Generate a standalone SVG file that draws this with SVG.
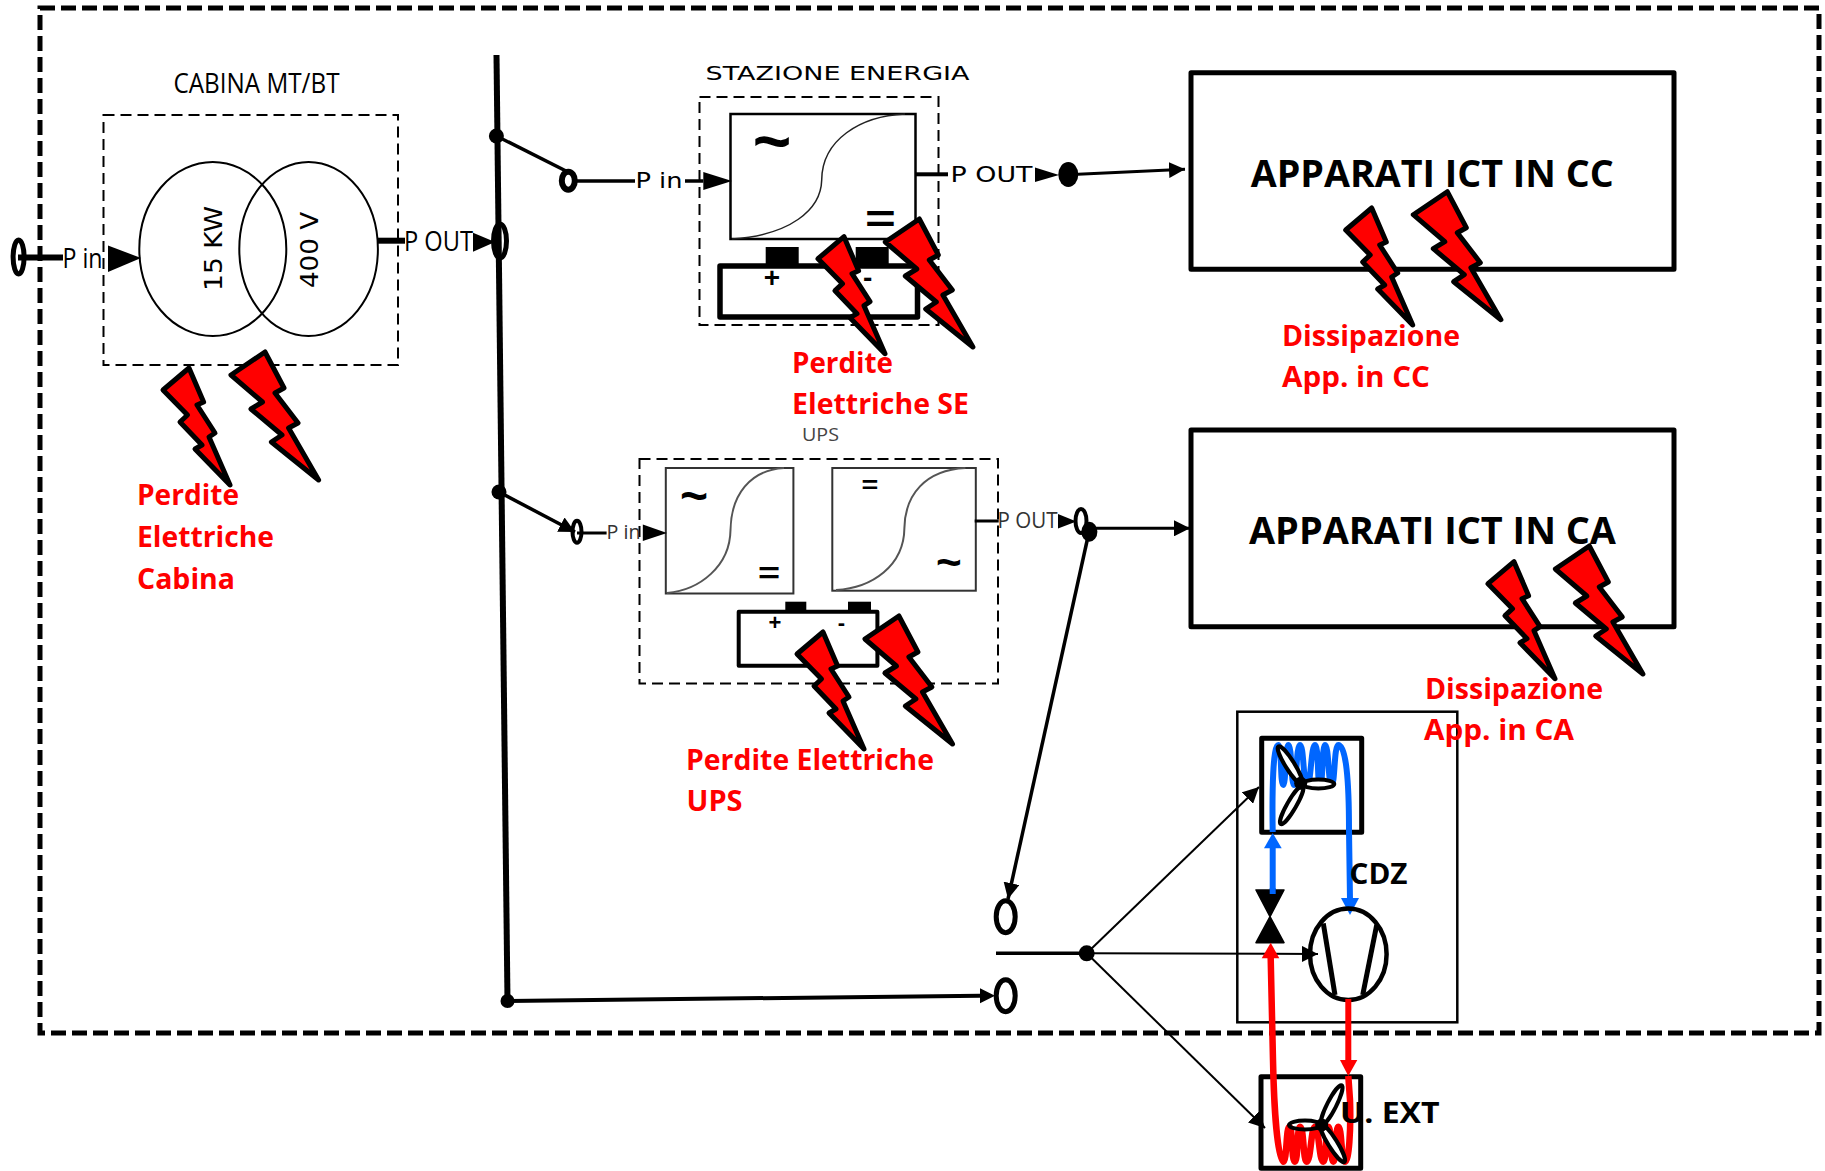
<svg xmlns="http://www.w3.org/2000/svg" xmlns:xlink="http://www.w3.org/1999/xlink" width="1825" height="1171" viewBox="0 0 1825 1171">
<style>
.dash{fill:none;stroke:#000;stroke-width:2;stroke-dasharray:11 6}
.box{fill:none;stroke:#000;stroke-width:2.5}
.thick{fill:none;stroke:#000;stroke-width:5;stroke-linejoin:round}
.ln{fill:none;stroke:#000;stroke-width:3.5}
.thin{fill:none;stroke:#000;stroke-width:2}
.curve{fill:none;stroke:#222;stroke-width:1.5}
.k{fill:#000;stroke:none}
.ring{fill:#fff;stroke:#000;stroke-width:5}
.blade{fill:#fff;stroke:#000;stroke-width:4}
.bolt{fill:#f00;stroke:#000;stroke-width:5;stroke-linejoin:round}
.red{font-family:"Open Sans","Liberation Sans",sans-serif;font-weight:700;font-size:28.5px;fill:#f00}
.blk{font-family:"Open Sans","Liberation Sans",sans-serif;font-weight:700;font-size:37px;fill:#000}
.sm{font-family:"Open Sans","Liberation Sans",sans-serif;font-weight:400;font-size:27px;fill:#000}
.dv{font-family:"DejaVu Sans",sans-serif;font-size:21px;fill:#000}
.sym{font-family:"Liberation Sans",sans-serif;text-anchor:middle;fill:#000}
.bl{fill:none;stroke:#06f;stroke-width:6}
.rd{fill:none;stroke:#f00;stroke-width:6.5}
</style>
<defs>
<polygon id="bs" class="bolt" points="0,0 14.6,34 8,37 26,65 20,69 41,117 6,81 13,77 -9,54 -1.5,47 -26,22"/>
<polygon id="bl" class="bolt" points="0,0 19,36 10,41 33,71 23.6,76 53.6,128 6.4,90 17,83 -14,57 -2.5,50 -34,23"/>
<marker id="ah" markerUnits="userSpaceOnUse" markerWidth="18" markerHeight="16" refX="16" refY="8" orient="auto"><path d="M0 0L16 8L0 16Z" fill="#000"/></marker>
</defs>
<rect width="1825" height="1171" fill="#fff"/>
<rect id="perimeter" x="40" y="8" width="1779" height="1025" fill="none" stroke="#000" stroke-width="5" stroke-dasharray="15 6"/>

<g id="cabina">
<text class="sm" x="173.5" y="92.5" textLength="166" lengthAdjust="spacingAndGlyphs">CABINA MT/BT</text>
<rect class="dash" x="103.5" y="115" width="294.5" height="250"/>
<ellipse cx="212.8" cy="249" rx="73.5" ry="87" fill="none" stroke="#000" stroke-width="2"/>
<ellipse cx="308.6" cy="249" rx="69.3" ry="87" fill="none" stroke="#000" stroke-width="2"/>
<text class="dv" style="font-size:25px" transform="translate(222 291) rotate(-90)" textLength="85" lengthAdjust="spacingAndGlyphs">15 KW</text>
<text class="dv" style="font-size:25px" transform="translate(318 288) rotate(-90)" textLength="76" lengthAdjust="spacingAndGlyphs">400 V</text>
<text class="sm" x="62.5" y="268" textLength="40" lengthAdjust="spacingAndGlyphs">P in</text>
<text class="sm" x="404" y="251" textLength="69" lengthAdjust="spacingAndGlyphs">P OUT</text>
</g>

<g id="stazione-energia">
<text class="dv" x="705.5" y="80" style="font-size:19.5px" textLength="264" lengthAdjust="spacingAndGlyphs">STAZIONE ENERGIA</text>
<rect class="dash" x="699.5" y="97" width="239" height="228"/>
<rect x="730.5" y="114" width="185" height="125" fill="none" stroke="#000" stroke-width="2.5"/>
<path class="curve" d="M732 239C790 235 821 210 821.7 180C822 140 860 116 905 114"/>
<text class="sym" style="font-size:66px;font-weight:700" x="772" y="164">~</text>
<text class="sym" transform="translate(880.5 232) scale(1.1 .8)" style="font-size:48px;font-weight:700">=</text>
<rect class="k" x="765.7" y="247" width="33" height="17"/>
<rect class="k" x="855.7" y="247" width="33" height="17"/>
<rect class="thick" x="720" y="266" width="197.5" height="51" style="stroke-width:5.5"/>
<text class="sym" style="font-size:28px;font-weight:700" x="772" y="287">+</text>
<text class="sym" style="font-size:28px;font-weight:700" x="867.7" y="287">-</text>
<text class="dv" x="635.5" y="187.7" textLength="47" lengthAdjust="spacingAndGlyphs">P in</text>
<text class="dv" x="950.5" y="181.7" textLength="82" lengthAdjust="spacingAndGlyphs">P OUT</text>
</g>

<g id="ups">
<text x="802" y="440.7" textLength="37" lengthAdjust="spacingAndGlyphs" style="font-family:'Open Sans',sans-serif;font-size:18px;fill:#444">UPS</text>
<rect class="dash" x="639.5" y="459" width="358.5" height="224.5"/>
<rect x="665.8" y="468" width="127.6" height="125.5" fill="none" stroke="#333" stroke-width="2"/>
<rect x="832.3" y="468" width="143.5" height="122.7" fill="none" stroke="#333" stroke-width="2"/>
<path class="curve" style="stroke:#555;stroke-width:2" d="M667 593C700 590 730 566 730.5 530C731 495 750 470 784 468"/>
<path class="curve" style="stroke:#555;stroke-width:2" d="M836 590C872 588 904 566 904.4 528C905 495 925 470 965.4 468"/>
<text class="sym" style="font-size:48px;font-weight:700" x="694" y="512">~</text>
<text class="sym" transform="translate(769 583) scale(1.05 .8)" style="font-size:36px;font-weight:700">=</text>
<text class="sym" style="font-size:44px;font-weight:700" x="948.8" y="577">~</text>
<text class="sym" transform="translate(870 493) scale(.8 .65)" style="font-size:36px;font-weight:700">=</text>
<rect class="k" x="785.3" y="601.7" width="21" height="11"/>
<rect class="k" x="848" y="601.7" width="23" height="11"/>
<rect class="thick" x="738.7" y="611.7" width="138.7" height="54" style="stroke-width:4"/>
<text class="sym" style="font-size:22px;font-weight:700" x="775" y="630">+</text>
<text class="sym" style="font-size:22px;font-weight:700" x="841.5" y="630">-</text>
<text class="sm" x="606.5" y="539" style="font-size:20px;fill:#333" textLength="34" lengthAdjust="spacingAndGlyphs">P in</text>
<text class="sm" x="997.5" y="527.5" style="font-size:21px;fill:#333" textLength="60" lengthAdjust="spacingAndGlyphs">P OUT</text>
</g>

<g id="apparati-cc">
<rect class="thick" x="1191" y="72.7" width="483" height="196.6"/>
<text class="blk" x="1250.7" y="186.5" textLength="363" lengthAdjust="spacingAndGlyphs">APPARATI ICT IN CC</text>
</g>
<g id="apparati-ca">
<rect class="thick" x="1191" y="430" width="483" height="196.7"/>
<text class="blk" x="1249" y="543.5" textLength="367" lengthAdjust="spacingAndGlyphs">APPARATI ICT IN CA</text>
</g>

<g id="connectors">
<line class="ln" x1="496.5" y1="55" x2="507.5" y2="1001" style="stroke-width:6"/>
<circle class="k" cx="496.4" cy="136" r="7.5"/>
<circle class="k" cx="499" cy="492" r="7.5"/>
<circle class="k" cx="507.5" cy="1001" r="7"/>
<line class="ln" x1="18" y1="257.5" x2="63" y2="257.5" style="stroke-width:6"/>
<polygon class="k" points="108,245.5 108,272 141,258"/>
<line class="ln" x1="377" y1="240.7" x2="405" y2="240.7" style="stroke-width:6"/>
<polygon class="k" points="473,232.7 473,251.7 495,242"/>
<ellipse class="ring" style="fill:none" cx="18.6" cy="257" rx="5.5" ry="17"/>
<ellipse class="ring" style="fill:none" cx="500" cy="241" rx="6.5" ry="17"/>
<line class="ln" x1="496.4" y1="136" x2="568" y2="172"/>
<line class="ln" x1="568" y1="181" x2="635" y2="181"/>
<line class="ln" x1="685" y1="181" x2="703.3" y2="181"/>
<polygon class="k" points="703.3,172 703.3,190 732,181"/>
<ellipse class="ring" style="fill:#fff;stroke-width:6" cx="568.3" cy="180.7" rx="6.5" ry="9"/>
<line class="ln" x1="916" y1="174.3" x2="948" y2="174.3" style="stroke-width:4"/>
<polygon class="k" points="1035,167.5 1035,182 1059,175"/>
<ellipse class="k" cx="1068.3" cy="174.5" rx="10" ry="12.5"/>
<line class="ln" x1="1078" y1="174.3" x2="1185" y2="169.3" marker-end="url(#ah)" style="stroke-width:3"/>
<line class="ln" x1="499" y1="492" x2="575" y2="532" marker-end="url(#ah)"/>
<line class="ln" x1="577" y1="533" x2="606.6" y2="533" style="stroke-width:3"/>
<polygon class="k" points="642.8,524.5 642.8,541 667,533"/>
<ellipse class="ring" style="fill:none;stroke-width:4" cx="577" cy="531.7" rx="4.5" ry="11"/>
<line class="ln" x1="974.7" y1="521" x2="998.7" y2="521" style="stroke-width:3"/>
<polygon class="k" points="1058,514 1058,528.5 1076.4,521.5"/>
<ellipse class="ring" style="fill:none;stroke-width:4" cx="1081" cy="521" rx="5.5" ry="12"/>
<ellipse class="k" cx="1089.4" cy="531.7" rx="8" ry="10"/>
<line class="ln" x1="1089" y1="528.3" x2="1190" y2="528.3" style="stroke-width:3" marker-end="url(#ah)"/>
<line class="ln" x1="1089" y1="532" x2="1008" y2="899" marker-end="url(#ah)"/>
<ellipse class="ring" style="fill:none" cx="1005.7" cy="916.7" rx="9.5" ry="16"/>
<ellipse class="ring" style="fill:none" cx="1005.7" cy="995.7" rx="9.5" ry="16"/>
<line class="ln" x1="507.5" y1="1001" x2="980" y2="995.7" style="stroke-width:4"/>
<polygon class="k" points="980,988.3 980,1003.3 995,995.7"/>
<line class="ln" x1="996" y1="953.3" x2="1086.7" y2="953.3"/>
<circle class="k" cx="1086.7" cy="953.3" r="8"/>
<line class="thin" x1="1086.7" y1="953.3" x2="1259" y2="787" marker-end="url(#ah)"/>
<line class="thin" x1="1086.7" y1="953.3" x2="1318" y2="954" marker-end="url(#ah)"/>
<line class="thin" x1="1086.7" y1="953.3" x2="1265" y2="1128" marker-end="url(#ah)"/>
</g>

<g id="cdz">
<rect class="box" x="1237.3" y="711.7" width="220" height="310.6"/>
<rect class="thick" x="1261.7" y="738.3" width="100" height="94"/>
<path class="bl" d="M1272.7 832C1272 790 1273 745 1278.3 745C1282 745 1280 785 1283.3 785C1286 785 1285 745 1288.3 745C1292 745 1291 785 1294 785C1297 785 1296 745 1300 745C1304 745 1303 785 1307.3 785C1311 785 1311 745 1315 745C1319 745 1317 785 1320 785C1323 785 1322 745 1325 745C1329 745 1328 785 1331.7 785C1335 785 1334 745 1338.3 745C1346 745 1349 780 1349 830L1350 900"/>
<polygon points="1341,898 1359,898 1350,915" fill="#06f"/>
<ellipse class="blade" cx="1290" cy="765" rx="22" ry="4.5" transform="rotate(58 1290 765)"/>
<ellipse class="blade" cx="1318.3" cy="784" rx="16" ry="4.5"/>
<ellipse class="blade" cx="1291.7" cy="805" rx="22" ry="4.5" transform="rotate(-60 1291.7 805)"/>
<circle class="k" cx="1300.7" cy="783.3" r="6.5"/>
<line x1="1272.7" y1="894" x2="1272.7" y2="846" stroke="#06f" stroke-width="6"/>
<polygon points="1264,848.3 1281.7,848.3 1272.7,833" fill="#06f"/>
<polygon points="1256,890 1284,890 1270,916.7 1284,942.7 1256,942.7 1270,916.7" fill="#000" stroke="#000" stroke-width="1.5" stroke-linejoin="round"/>
<line x1="1272.7" y1="894" x2="1272.7" y2="888" stroke="#06f" stroke-width="6"/>
<ellipse cx="1348.3" cy="954.3" rx="38.3" ry="45.7" fill="none" stroke="#000" stroke-width="4.5"/>
<line x1="1323.3" y1="923.3" x2="1335" y2="995" stroke="#000" stroke-width="5"/>
<line x1="1376.7" y1="925" x2="1362.7" y2="995" stroke="#000" stroke-width="5"/>
<text class="blk" style="font-size:29px" x="1349.5" y="884" textLength="58" lengthAdjust="spacingAndGlyphs">CDZ</text>
</g>

<g id="unita-esterna">
<rect class="thick" x="1261" y="1076.7" width="99.7" height="91.5"/>
<path class="rd" d="M1270.7 958L1273 1060C1274 1110 1278 1161.7 1283.3 1161.7C1287 1161.7 1286 1126.7 1289.3 1126.7C1293 1126.7 1291 1161.7 1295 1161.7C1298 1161.7 1297 1126.7 1300 1126.7C1304 1126.7 1303 1161.7 1306.7 1161.7C1311 1161.7 1311 1126.7 1315 1126.7C1319 1126.7 1319 1161.7 1323.3 1161.7C1327 1161.7 1325 1126.7 1328.3 1126.7C1332 1126.7 1330 1161.7 1333.3 1161.7C1337 1161.7 1335 1126.7 1338.3 1126.7C1342 1126.7 1341 1161.7 1345 1161.7C1349 1161.7 1351 1130 1350 1100L1348.3 1076"/>
<polygon points="1261.7,958.3 1279.3,958.3 1270.7,942.7" fill="#f00"/>
<line x1="1348.3" y1="999" x2="1348.3" y2="1062" stroke="#f00" stroke-width="6"/>
<polygon points="1340,1060 1357.3,1060 1348.3,1076" fill="#f00"/>
<ellipse class="blade" cx="1331.7" cy="1105" rx="22" ry="4.5" transform="rotate(-63 1331.7 1105)"/>
<ellipse class="blade" cx="1305" cy="1125" rx="16" ry="4.5" style="fill:none"/>
<ellipse class="blade" cx="1332.7" cy="1143.3" rx="22" ry="4.5" transform="rotate(58 1332.7 1143.3)"/>
<circle class="k" cx="1321.7" cy="1125" r="6.5"/>
<text class="blk" style="font-size:29px" x="1340" y="1123" textLength="99.5" lengthAdjust="spacingAndGlyphs">U. EXT</text>
</g>

<g id="perdite-cabina">
<use href="#bs" x="189" y="368"/><use href="#bl" x="265" y="352"/>
<text class="red" x="137" y="504.5" textLength="102" lengthAdjust="spacingAndGlyphs">Perdite</text>
<text class="red" x="137" y="546.5" textLength="137" lengthAdjust="spacingAndGlyphs">Elettriche</text>
<text class="red" x="137" y="588.5" textLength="98" lengthAdjust="spacingAndGlyphs">Cabina</text>
</g>
<g id="perdite-se">
<use href="#bs" x="844" y="236.7"/><use href="#bl" x="919.3" y="219"/>
<text class="red" x="792" y="372.5" textLength="101" lengthAdjust="spacingAndGlyphs">Perdite</text>
<text class="red" x="792" y="413.5" textLength="177" lengthAdjust="spacingAndGlyphs">Elettriche SE</text>
</g>
<g id="perdite-ups">
<use href="#bs" x="823" y="632"/><use href="#bl" x="898.9" y="616"/>
<text class="red" x="686" y="769.5" textLength="248" lengthAdjust="spacingAndGlyphs">Perdite Elettriche</text>
<text class="red" x="686.5" y="811" textLength="56" lengthAdjust="spacingAndGlyphs">UPS</text>
</g>
<g id="dissipazione-cc">
<use href="#bs" x="1371.7" y="208"/><use href="#bl" x="1447.3" y="191.7"/>
<text class="red" x="1282" y="345.5" textLength="178" lengthAdjust="spacingAndGlyphs">Dissipazione</text>
<text class="red" x="1282" y="386.5" textLength="148" lengthAdjust="spacingAndGlyphs">App. in CC</text>
</g>
<g id="dissipazione-ca">
<use href="#bs" x="1514" y="561.7"/><use href="#bl" x="1589.3" y="546"/>
<text class="red" x="1425" y="698.5" textLength="178" lengthAdjust="spacingAndGlyphs">Dissipazione</text>
<text class="red" x="1424" y="739.8" textLength="150" lengthAdjust="spacingAndGlyphs">App. in CA</text>
</g>
</svg>
